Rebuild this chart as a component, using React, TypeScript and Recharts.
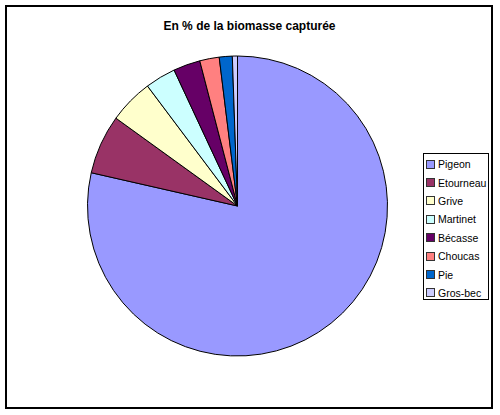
import React from "react";
import { PieChart, Pie, Cell, Legend } from "recharts";

const categories = ["Pigeon", "Etourneau", "Grive", "Martinet", "Bécasse", "Choucas", "Pie", "Gros-bec"];
const values = [78.6, 6.4, 4.8, 3.3, 2.9, 2.1, 1.4, 0.55];
const colors = ["#9999FF", "#993366", "#FFFFCC", "#CCFFFF", "#660066", "#FF8080", "#0066CC", "#CCCCFF"];
const title = "En % de la biomasse capturée";

const data = categories.map((name, i) => ({ name, value: values[i] }));

const FONT = "'Liberation Sans', Arial, sans-serif";

const LegendContent = () => {
  return (
    <div
      style={{
        border: "1px solid #000",
        width: 66,
        height: 147,
        boxSizing: "border-box",
        background: "#fff",
        paddingTop: 1,
        fontFamily: FONT,
        fontSize: 10.5,
        color: "#000",
      }}
    >
      {categories.map((name, i) => (
        <div key={name} style={{ display: "flex", alignItems: "center", height: 18.4, whiteSpace: "nowrap" }}>
          <span
            style={{
              display: "inline-block",
              width: 7,
              height: 7,
              background: colors[i],
              border: "1px solid #333",
              marginLeft: 2,
              marginRight: 3,
            }}
          />
          <span>{name}</span>
        </div>
      ))}
    </div>
  );
};

export default function App() {
  return (
    <div style={{ position: "absolute", left: 0, top: 0, width: 500, height: 415, background: "#fff" }}>
      <div
        style={{
          position: "absolute",
          left: 5,
          top: 5,
          width: 488,
          height: 404,
          border: "2px solid #000",
          boxSizing: "border-box",
        }}
      />
      <div
        style={{
          position: "absolute",
          left: 0,
          top: 19,
          width: 499,
          textAlign: "center",
          fontFamily: FONT,
          fontWeight: "bold",
          fontSize: 12,
          color: "#000",
        }}
      >
        {title}
      </div>
      <div style={{ position: "absolute", left: 0, top: 0 }}>
        <PieChart width={500} height={415} margin={{ top: 0, right: 0, bottom: 0, left: 0 }}>
          <Pie
            data={data}
            dataKey="value"
            nameKey="name"
            cx={237.5}
            cy={206}
            outerRadius={150}
            startAngle={90}
            endAngle={-270}
            stroke="#000"
            strokeWidth={1}
            isAnimationActive={false}
            legendType="square"
          >
            {data.map((d, i) => (
              <Cell key={d.name} fill={colors[i]} />
            ))}
          </Pie>
          <Legend
            layout="vertical"
            content={<LegendContent />}
            wrapperStyle={{ position: "absolute", left: 423, top: 153, width: 66 }}
          />
        </PieChart>
      </div>
    </div>
  );
}
